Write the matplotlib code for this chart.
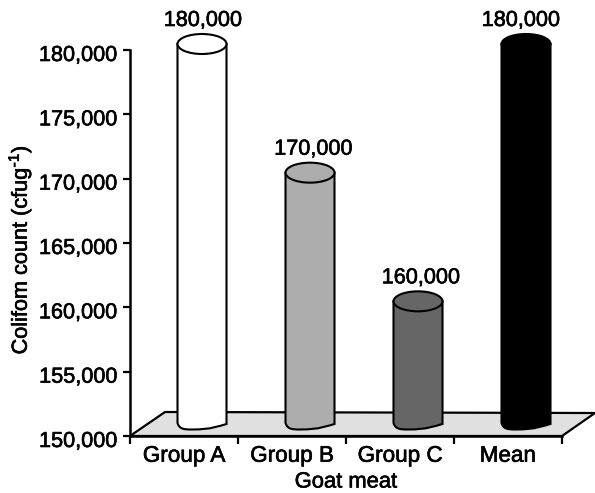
import matplotlib
matplotlib.use('Agg')
import matplotlib.pyplot as plt
import matplotlib.patheffects as pe
from matplotlib.patches import Ellipse, Polygon, PathPatch
from matplotlib.path import Path
from matplotlib.transforms import ScaledTranslation

categories = ['Group A', 'Group B', 'Group C', 'Mean']
values = [180000, 170000, 160000, 180000]
labels = ['180,000', '170,000', '160,000', '180,000']
colors = ['#ffffff', '#adadad', '#666666', '#000000']
yticks = [150000, 155000, 160000, 165000, 170000, 175000, 180000]
ytick_labels = ['150,000', '155,000', '160,000', '165,000', '170,000', '175,000', '180,000']

plt.rcParams['font.family'] = ['Liberation Sans', 'DejaVu Sans']
plt.rcParams['mathtext.default'] = 'regular'

W, H = 595, 493
L, R, T, B = 130, 562, 50, 436
fig = plt.figure(figsize=(W/100, H/100), dpi=100)
ax = fig.add_axes([L/W, 1-B/H, (R-L)/W, (B-T)/H])
ax.set_xlim(0, 4)
ax.set_ylim(150000, 180000)

# one pixel in data units
px = 1/108
py = 30000/386

# reference text is a bit heavier than plain antialiased text
heavy = [pe.withStroke(linewidth=0.45, foreground='black')]

# floor of the 3d box
floor = Polygon([(0, 150000), (35*px, 150000+24*py), (465*px, 150000+23*py), (432*px, 150000)],
                closed=True, fc='#e0e0e0', ec='black', lw=1.6, clip_on=False, zorder=1)
ax.add_patch(floor)

# labels above the bars don't sit exactly over the centers
label_dx = [1, 3.5, 3, -5]

# cylinders
hw = 24.5*px
for i in range(4):
    c = i + 72*px
    top = values[i] + 6*py
    bot = 150000 + 13*py
    col = colors[i]
    verts = [(c-hw, top), (c-hw, bot),
             (c-hw+2*px, bot-6*py), (c-hw+6*px, bot-6.5*py), (c-hw+14*px, bot-6.5*py),
             (c+hw-14*px, bot-6.5*py), (c+hw-8*px, bot-3*py), (c+hw, bot-1*py),
             (c+hw, top), (c-hw, top)]
    codes = [Path.MOVETO, Path.LINETO,
             Path.CURVE4, Path.CURVE4, Path.CURVE4,
             Path.CURVE4, Path.CURVE4, Path.CURVE4,
             Path.LINETO, Path.CLOSEPOLY]
    ax.add_patch(PathPatch(Path(verts, codes), fc=col, ec='black', lw=1.5, clip_on=False, zorder=3))
    ax.add_patch(Ellipse((c, top), 2*hw, 20*py, fc=col, ec='black', lw=1.5, clip_on=False, zorder=4))
    ax.text(c + label_dx[i]*px, top + 13*py, labels[i], ha='center', va='bottom', fontsize=15.6,
            clip_on=False, path_effects=heavy)

ax.spines['top'].set_visible(False)
ax.spines['right'].set_visible(False)
ax.spines['left'].set_linewidth(1.8)
ax.spines['bottom'].set_linewidth(1.8)
ax.spines['left'].set_zorder(5)
ax.spines['bottom'].set_zorder(5)
ax.patch.set_visible(False)

ax.set_yticks(yticks)
ax.set_yticklabels(ytick_labels, fontsize=15.6)
ax.set_xticks([0, 1, 2, 3, 4])
ax.set_xticklabels([])
ax.set_xticks([0.5, 1.5, 2.5, 3.5], minor=True)
ax.set_xticklabels(categories, minor=True, fontsize=16.2)
ax.tick_params(axis='x', which='major', length=6, width=1.6)
ax.tick_params(axis='x', which='minor', length=0, pad=7)
ax.tick_params(axis='y', length=5, width=1.6, pad=4)

for t in ax.get_yticklabels():
    t.set_transform(t.get_transform() + ScaledTranslation(0, -3/100, fig.dpi_scale_trans))
    t.set_path_effects(heavy)
for t in ax.get_xticklabels(minor=True):
    t.set_path_effects(heavy)

fig.text(346/W, 1-482/H, 'Goat meat', fontsize=15.8, ha='center', va='center', path_effects=heavy)
fig.text(20/W, 1-250/H, r'Colifom count (cfug$^{\text{-}1}$)', fontsize=15.6, rotation=90,
         ha='center', va='center', path_effects=heavy)

fig.savefig('out.png', dpi=100)
